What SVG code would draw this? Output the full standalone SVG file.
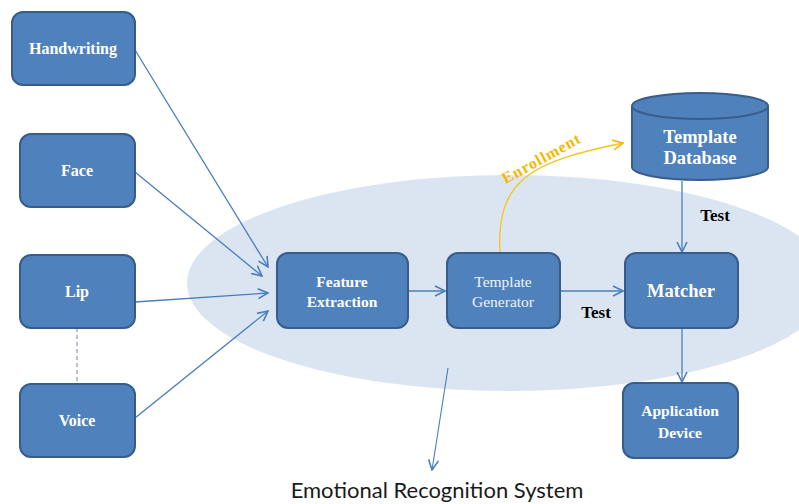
<svg xmlns="http://www.w3.org/2000/svg" width="799" height="504" viewBox="0 0 799 504">
  <defs>
    <style>
      .box { fill: #4f81bd; stroke: #385d8a; stroke-width: 2; }
      .lbl { font-family: "Liberation Serif", "DejaVu Serif", serif; font-weight: bold; fill: #ffffff; text-anchor: middle; }
      .lbl-light { font-family: "Liberation Serif", "DejaVu Serif", serif; fill: #eef3fa; text-anchor: middle; }
      .conn { fill: none; stroke: #4a7ebb; stroke-width: 1.3; }
      .tag { font-family: "Liberation Serif", "DejaVu Serif", serif; font-weight: bold; fill: #000000; font-size: 17px; text-anchor: middle; }
    </style>
    <marker id="arrow" viewBox="0 0 12 12" refX="11" refY="6" markerWidth="12" markerHeight="12" markerUnits="userSpaceOnUse" orient="auto">
      <path d="M1,1 L11,6 L1,11" fill="none" stroke="#4a7ebb" stroke-width="1.6"/>
    </marker>
    <marker id="arrow-gold" viewBox="0 0 12 12" refX="11" refY="6" markerWidth="12" markerHeight="12" markerUnits="userSpaceOnUse" orient="auto">
      <path d="M1,1 L11,6 L1,11" fill="none" stroke="#f5b800" stroke-width="1.6"/>
    </marker>
  </defs>

  <rect width="799" height="504" fill="#ffffff"/>

  <!-- system boundary -->
  <ellipse id="system-area" cx="509" cy="283" rx="322" ry="108" fill="#dbe5f1"/>

  <!-- connectors -->
  <g id="connectors">
    <line class="conn" x1="135" y1="50" x2="268" y2="267" marker-end="url(#arrow)"/>
    <line class="conn" x1="135" y1="172" x2="262" y2="276" marker-end="url(#arrow)"/>
    <line class="conn" x1="135" y1="302" x2="268" y2="293" marker-end="url(#arrow)"/>
    <line class="conn" x1="135" y1="418" x2="268" y2="311" marker-end="url(#arrow)"/>
    <line x1="77" y1="328" x2="77" y2="382" stroke="#8a9bb0" stroke-width="1.2" stroke-dasharray="4,3"/>
    <line class="conn" x1="408" y1="291" x2="445" y2="291" marker-end="url(#arrow)"/>
    <line class="conn" x1="560" y1="291" x2="623" y2="291" marker-end="url(#arrow)"/>
    <line class="conn" x1="682" y1="181" x2="682" y2="252" marker-end="url(#arrow)"/>
    <line class="conn" x1="682" y1="328" x2="682" y2="382" marker-end="url(#arrow)"/>
    <path d="M500,253 C496,180 530,162 623,143" fill="none" stroke="#f5c518" stroke-width="1.3" marker-end="url(#arrow-gold)"/>
    <line x1="448" y1="368" x2="432" y2="470" fill="none" stroke="#4a7ebb" stroke-width="1.1" marker-end="url(#arrow)"/>
    <text class="tag" x="596" y="318">Test</text>
    <text class="tag" x="715" y="221">Test</text>
    <text x="544" y="163" transform="rotate(-29 544 163)" font-family="Liberation Serif, DejaVu Serif, serif" font-weight="bold" font-size="16" fill="#f5b800" text-anchor="middle" letter-spacing="1">Enrollment</text>
  </g>

  <!-- input modalities -->
  <g id="handwriting">
    <rect class="box" x="12" y="12" width="123" height="73" rx="11"/>
    <text class="lbl" x="73" y="54" font-size="16">Handwriting</text>
  </g>
  <g id="face">
    <rect class="box" x="20" y="134" width="115" height="73" rx="11"/>
    <text class="lbl" x="77" y="176" font-size="16">Face</text>
  </g>
  <g id="lip">
    <rect class="box" x="20" y="255" width="115" height="73" rx="11"/>
    <text class="lbl" x="77" y="297" font-size="16">Lip</text>
  </g>
  <g id="voice">
    <rect class="box" x="20" y="384" width="115" height="73" rx="11"/>
    <text class="lbl" x="77" y="426" font-size="16">Voice</text>
  </g>

  <!-- processing chain -->
  <g id="feature-extraction">
    <rect class="box" x="277" y="253" width="131" height="75" rx="11"/>
    <text class="lbl" x="342" y="287" font-size="15.5">Feature</text>
    <text class="lbl" x="342" y="307" font-size="15.5">Extraction</text>
  </g>
  <g id="template-generator">
    <rect class="box" x="447" y="253" width="113" height="75" rx="11"/>
    <text class="lbl-light" x="503" y="287" font-size="15.5">Template</text>
    <text class="lbl-light" x="503" y="307" font-size="15.5">Generator</text>
  </g>
  <g id="matcher">
    <rect class="box" x="625" y="253" width="113" height="75" rx="11"/>
    <text class="lbl" x="681" y="297" font-size="18.5">Matcher</text>
  </g>
  <g id="template-database">
    <path class="box" d="M632,106 L632,167 A68,13 0 0 0 768,167 L768,106"/>
    <ellipse class="box" cx="700" cy="106" rx="68" ry="13"/>
    <text class="lbl" x="700" y="143" font-size="18.5">Template</text>
    <text class="lbl" x="700" y="164" font-size="18.5">Database</text>
  </g>
  <g id="application-device">
    <rect class="box" x="623" y="383" width="115" height="75" rx="11"/>
    <text class="lbl" x="680" y="416" font-size="15.5">Application</text>
    <text class="lbl" x="680" y="438" font-size="15.5">Device</text>
  </g>

  <text id="system-caption" x="437" y="498" font-family="Lato, Open Sans, Liberation Sans, sans-serif" font-size="22" fill="#1a1a1a" text-anchor="middle">Emotional Recognition System</text>
</svg>
